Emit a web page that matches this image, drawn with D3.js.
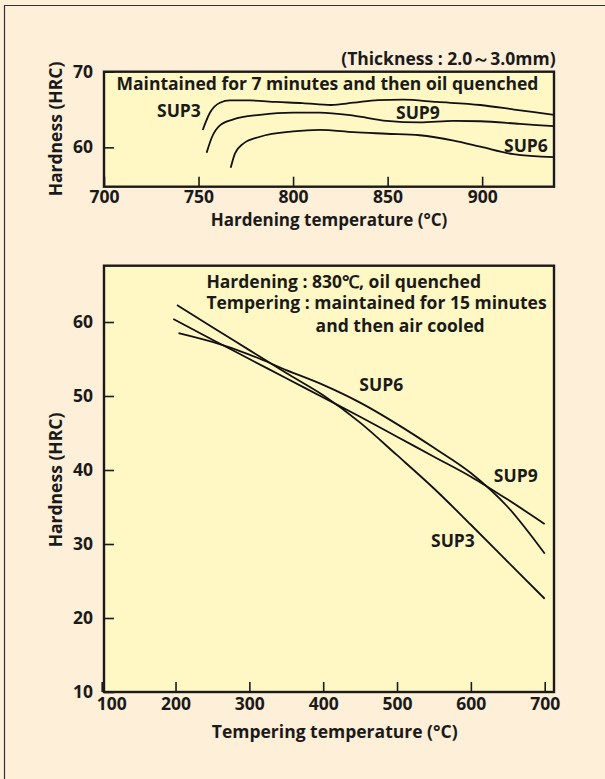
<!DOCTYPE html>
<html><head><meta charset="utf-8">
<script src="https://cdn.jsdelivr.net/npm/d3@7"></script>
<style>
html,body{margin:0;padding:0;background:#fdefd8;}
svg{display:block;}
text{font-family:"Open Sans",sans-serif;font-weight:700;fill:#1a1a1a;}
</style></head><body>
<svg id="c" width="605" height="779"></svg>
<script>
// ---- Top chart: hardening temperature vs hardness ----
const hardTicks = [700, 750, 800, 850, 900];
const hardYTicks = [60, 70];
const sup3Hard = [[752.2,62.3],[756.1,64.6],[761.3,65.9],[766.6,66.2],[777,66.2],[791,66.0],[805,65.85],[820,65.6],[832,65.9],[845,66.25],[858,66.3],[876,66.0],[899,65.6],[917,65.0],[938,64.3]];
const sup9Hard = [[754.3,59.3],[757,61.3],[761.3,62.9],[768.4,63.7],[782.5,64.3],[800,64.6],[814,64.6],[832,64.2],[849.5,63.5],[867,63.3],[885,63.5],[899,63.45],[920,63.1],[938,62.8]];
const sup6Hard = [[767,57.3],[769.3,59.2],[773.7,60.5],[782.5,61.4],[800,62.1],[814,62.3],[832,62.0],[849.5,61.8],[867,61.6],[885,60.9],[899,60.1],[916.5,59.1],[938,58.7]];

// ---- Bottom chart: tempering temperature vs hardness ----
const tempTicks = [100, 200, 300, 400, 500, 600, 700];
const tempYTicks = [10, 20, 30, 40, 50, 60];
const sup3Temp = [[202,62.3],[250,59.3],[300,56.2],[350,53.1],[400,50.1],[450,46.4],[500,42.0],[550,37.5],[600,32.6],[650,27.6],[700,22.6]];
const sup9Temp = [[197,60.4],[250,57.6],[300,55.0],[350,52.4],[400,49.8],[450,47.2],[500,44.5],[550,41.8],[600,39.1],[650,36.0],[700,32.7]];
const sup6Temp = [[204,58.5],[250,57.3],[300,55.6],[350,53.5],[400,51.5],[450,49.1],[500,46.2],[550,43.0],[600,39.6],[650,35.0],[700,28.7]];

const svg = d3.select("#c");
svg.append("rect").attr("x",0).attr("y",0).attr("width",605).attr("height",779).attr("fill","#fdefd8");
svg.append("path").attr("d","M4.5,779V5.5H605").attr("fill","none").attr("stroke","#333").attr("stroke-width",1.2);

const FS = 17.5;
const plotFill = "#fff8c4";

function panel(o){
  const g = svg.append("g");
  g.append("rect").attr("x",o.x0).attr("y",o.y0).attr("width",o.x1-o.x0).attr("height",o.y1-o.y0)
    .attr("fill",plotFill);
  const ax = g.append("g").attr("transform",`translate(0,${o.y1})`)
    .call(d3.axisBottom(o.x).tickValues(o.xt).tickSize(-10).tickPadding(o.xpad).tickFormat(d3.format("d")));
  const ay = g.append("g").attr("transform",`translate(${o.x0},0)`)
    .call(d3.axisLeft(o.y).tickValues(o.yt).tickSize(-10).tickPadding(11).tickFormat(d3.format("d")));
  [ax,ay].forEach(a=>{
    a.select(".domain").remove();
    a.selectAll("line").attr("stroke","#1a1a1a").attr("stroke-width",1.6);
    a.selectAll("text").attr("font-size",FS).attr("fill","#1a1a1a").attr("font-family",'"Open Sans",sans-serif');
  });
  const line = d3.line().x(d=>o.x(d[0])).y(d=>o.y(d[1])).curve(d3.curveMonotoneX);
  o.series.forEach(s=>{
    g.append("path").attr("d",line(s)).attr("fill","none").attr("stroke","#111").attr("stroke-width",1.8);
  });
  g.append("rect").attr("x",o.x0).attr("y",o.y0).attr("width",o.x1-o.x0).attr("height",o.y1-o.y0)
    .attr("fill","none").attr("stroke","#1a1a1a").attr("stroke-width",2.4);
  return {g,ax,ay};
}

// top
const xT = d3.scaleLinear().domain([700,938]).range([104,554]);
const yT = d3.scaleLinear().domain([54.8,70]).range([186.7,71.7]);
const topPanel = panel({x:xT,y:yT,x0:104,x1:554,y0:71.7,y1:186.7,xt:hardTicks,yt:hardYTicks,xpad:4,series:[sup3Hard,sup9Hard,sup6Hard]});

// bottom
const xB = d3.scaleLinear().domain([100,700]).range([101.7,544.7]);
const yB = d3.scaleLinear().domain([10,60]).range([692,322]);
const botPanel = panel({x:xB,y:yB,x0:104,x1:554,y0:265.7,y1:692,xt:tempTicks,yt:tempYTicks,xpad:6,series:[sup3Temp,sup9Temp,sup6Temp]});
botPanel.ax.selectAll(".tick").filter(d=>d===100).select("text").attr("dx",9.5);

function txt(x,y,s,anchor,size){
  return svg.append("text").attr("x",x).attr("y",y).attr("text-anchor",anchor||"start").attr("font-size",size||FS).text(s);
}
// top texts
txt(555.6,65,"(Thickness : 2.0\uFF5E3.0mm)","end");
txt(116.5,89.5,"Maintained for 7 minutes and then oil quenched");
txt(157,116.7,"SUP3");
txt(396,118.7,"SUP9");
txt(504,151.7,"SUP6");
txt(329,226,"Hardening temperature (\u00B0C)","middle",17);
svg.append("text").attr("transform","translate(62,129) rotate(-90)").attr("text-anchor","middle").attr("font-size",FS).text("Hardness (HRC)");

// bottom texts
txt(206.4,287.7,"Hardening : 830\u2103, oil quenched");
txt(206.4,309.3,"Tempering : maintained for 15 minutes");
txt(315.6,332.3,"and then air cooled");
txt(359.3,390.7,"SUP6");
txt(493.8,481.7,"SUP9");
txt(431,547.3,"SUP3");
txt(334.7,738,"Tempering temperature (\u00B0C)","middle");
svg.append("text").attr("transform","translate(62,480) rotate(-90)").attr("text-anchor","middle").attr("font-size",FS).text("Hardness (HRC)");
</script>
</body></html>
